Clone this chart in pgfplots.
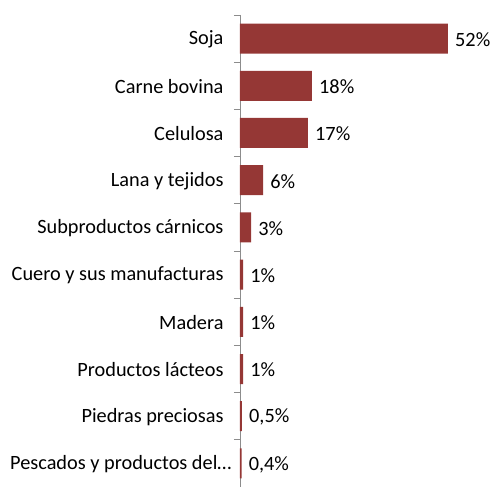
\documentclass[border=0pt]{standalone}
\usepackage{pgfplots}
\pgfplotsset{compat=1.18}
\usepackage{pgfplotstable}
\usepackage{fontspec}
\setmainfont{Carlito}
\definecolor{barred}{HTML}{953735}
\definecolor{axisgray}{HTML}{8C8C8C}

\pgfplotstableread[col sep=semicolon]{
pos;val;lab
0;52;52\%
1;18;18\%
2;17;17\%
3;5.8;6\%
4;2.8;3\%
5;0.8;1\%
6;0.8;1\%
7;0.8;1\%
8;0.5;0,5\%
9;0.4;0,4\%
}\exports

\begin{document}
\begin{tikzpicture}[font=\fontsize{20.3}{24}\selectfont]
\useasboundingbox (-240pt,0pt) rectangle (256pt,487pt);
\begin{axis}[
    at={(0pt,0pt)}, anchor=south west,
    scale only axis,
    width=248pt, height=472pt,
    xmin=0, xmax=62,
    ymin=-0.5, ymax=9.5,
    y dir=reverse,
    hide x axis,
    axis y line*=left,
    y axis line style={draw=axisgray, line width=0.9pt, -},
    ytick={0,...,9},
    yticklabels={Soja, Carne bovina, Celulosa, Lana y tejidos,
        Subproductos cárnicos, Cuero y sus manufacturas, Madera,
        Productos lácteos, Piedras preciosas, Pescados y productos del…\hspace*{-8pt}},
    major tick length=0pt,
    minor ytick={-0.5,0.5,...,9.5},
    minor tick length=6pt,
    tick align=outside,
    minor y tick style={draw=axisgray, line width=0.9pt},
    y tick label style={anchor=east, xshift=-13pt, yshift=-1pt},
    clip=false,
]
\addplot[
    xbar, bar width=30pt, fill=barred, draw=none, bar shift=0pt,
    nodes near coords, point meta=explicit symbolic,
    every node near coord/.append style={anchor=west, inner sep=0pt, xshift=7pt, yshift=-1pt, text=black},
] table[x=val, y=pos, meta=lab] {\exports};
\end{axis}
\end{tikzpicture}
\end{document}
